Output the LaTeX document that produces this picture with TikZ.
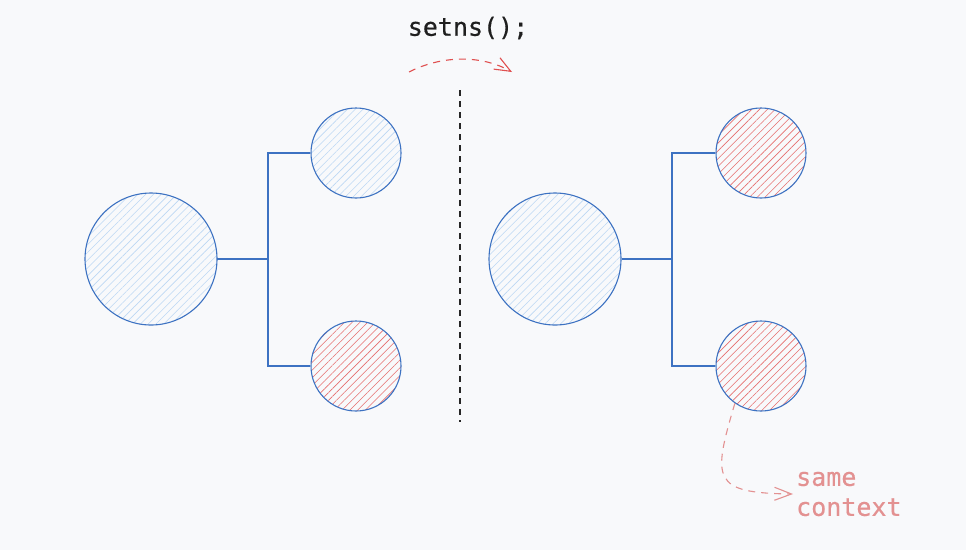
\documentclass[tikz,border=0pt]{standalone}
\usepackage{fontspec}
\newfontfamily\codefont[FakeBold=0.5]{DejaVu Sans Mono}
\usetikzlibrary{arrows.meta,positioning,patterns.meta,calc}

\definecolor{bgcol}{HTML}{F8F9FB}
\definecolor{ringblue}{HTML}{3D72C2}
\definecolor{hatchblue}{HTML}{BCD7F4}
\definecolor{hatchred}{HTML}{E66E6E}
\definecolor{callred}{HTML}{E05050}
\definecolor{notered}{HTML}{E39191}

\begin{document}
\begin{tikzpicture}[x=1pt,y=-1pt]
% Define styles
\tikzstyle{proc} = [circle, draw=ringblue, line width=1.1pt, inner sep=0pt]
\tikzstyle{bigproc} = [proc, minimum size=132pt,
    pattern={Lines[angle=45,distance=5.5pt,line width=0.6pt]}, pattern color=hatchblue]
\tikzstyle{thread} = [proc, minimum size=90pt,
    pattern={Lines[angle=45,distance=5.5pt,line width=0.6pt]}, pattern color=hatchblue]
\tikzstyle{moved} = [proc, minimum size=90pt,
    pattern={Lines[angle=45,distance=5.5pt,line width=0.6pt]}, pattern color=hatchred]
\tikzstyle{line} = [draw=ringblue, line width=1.1pt]
\tikzstyle{call} = [draw=callred, line width=1.1pt, dash pattern=on 7pt off 6pt,
    -{Straight Barb[length=16pt,width=13pt]}]
\tikzstyle{note} = [draw=notered, line width=1.1pt, dash pattern=on 7pt off 6pt,
    -{Straight Barb[length=17pt,width=13pt]}]

    % Background
    \fill[bgcol] (0,0) rectangle (966,550);
    \useasboundingbox (0,0) rectangle (966,550);

    % Place nodes
    \node [bigproc] (lroot) at (151,259) {};
    \node [thread] (ltop) at (356,153) {};
    \node [moved] (lbot) at (356,366) {};
    \node [bigproc] (rroot) at (555,259) {};
    \node [moved] (rtop) at (761,153) {};
    \node [moved] (rbot) at (761,366) {};
    \coordinate (ljoin) at (268,259);
    \coordinate (rjoin) at (672,259);
    \coordinate (cuttop) at (460,90);
    \coordinate (cutbot) at (460,422);
    \node [font=\codefont\fontsize{25}{30}\selectfont, text=black!88] (call) at (468,28) {setns();};
    \coordinate (callfrom) at (409,72);
    \coordinate (callto) at (512,72);
    \node [font=\codefont\fontsize{25}{30}\selectfont, text=notered, align=left,
        anchor=west, inner sep=3pt] (same) at (793,494) {same\\context};

    % Draw edges
    \path [line] (lroot) -- (ljoin);
    \path [line] (ljoin) |- (ltop);
    \path [line] (ljoin) |- (lbot);
    \path [line] (rroot) -- (rjoin);
    \path [line] (rjoin) |- (rtop);
    \path [line] (rjoin) |- (rbot);
    \draw [black!85, line width=1.1pt, dash pattern=on 6pt off 5pt] (cuttop) -- (cutbot);
    \path [call] (callfrom) .. controls (440,56) and (480,54) .. (callto);
    \path [note] (rbot.235) .. controls (712,480) and (712,493) .. (same.west);
\end{tikzpicture}
\end{document}
